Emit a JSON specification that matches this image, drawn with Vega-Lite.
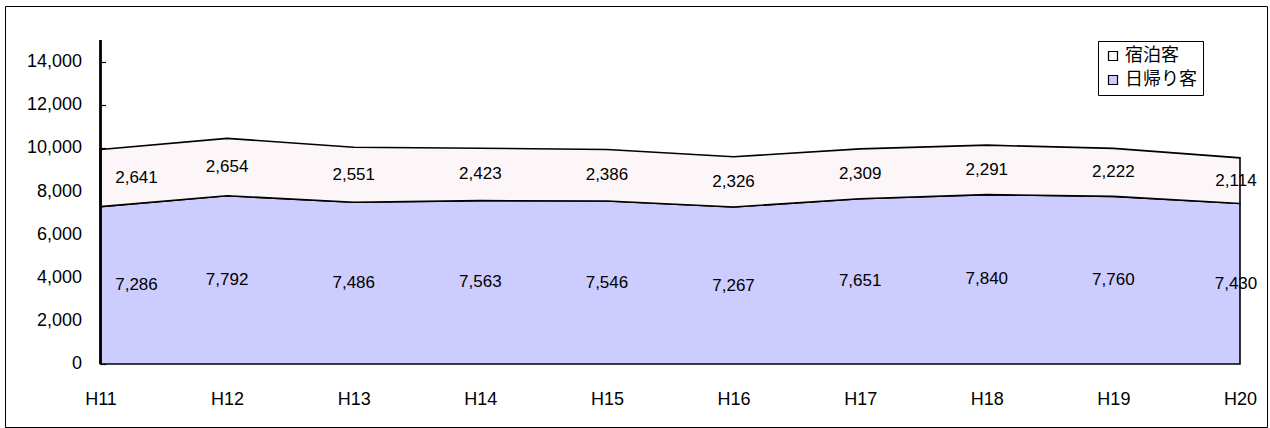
{
  "$schema": "https://vega.github.io/schema/vega-lite/v6.json",
  "autosize": {"type": "none"},
  "padding": {"left": 5, "top": 6, "right": 3, "bottom": 1},
  "width": 1262,
  "height": 421,
  "background": "white",
  "config": {
    "view": {"stroke": "#000000", "strokeWidth": 1},
    "font": "Liberation Sans",
    "axis": {"labelFont": "Liberation Sans", "labelColor": "#000000", "grid": false, "domain": false, "title": null},
    "legend": {"labelFont": "Noto Sans CJK JP"}
  },
  "data": {
    "values": [
      {"year": 11, "series": "日帰り客", "value": 7286},
      {"year": 12, "series": "日帰り客", "value": 7792},
      {"year": 13, "series": "日帰り客", "value": 7486},
      {"year": 14, "series": "日帰り客", "value": 7563},
      {"year": 15, "series": "日帰り客", "value": 7546},
      {"year": 16, "series": "日帰り客", "value": 7267},
      {"year": 17, "series": "日帰り客", "value": 7651},
      {"year": 18, "series": "日帰り客", "value": 7840},
      {"year": 19, "series": "日帰り客", "value": 7760},
      {"year": 20, "series": "日帰り客", "value": 7430},
      {"year": 11, "series": "宿泊客", "value": 2641},
      {"year": 12, "series": "宿泊客", "value": 2654},
      {"year": 13, "series": "宿泊客", "value": 2551},
      {"year": 14, "series": "宿泊客", "value": 2423},
      {"year": 15, "series": "宿泊客", "value": 2386},
      {"year": 16, "series": "宿泊客", "value": 2326},
      {"year": 17, "series": "宿泊客", "value": 2309},
      {"year": 18, "series": "宿泊客", "value": 2291},
      {"year": 19, "series": "宿泊客", "value": 2222},
      {"year": 20, "series": "宿泊客", "value": 2114}
    ]
  },
  "transform": [
    {"stack": "value", "groupby": ["year"], "sort": [{"field": "series", "order": "descending"}], "as": ["y0", "y1"]},
    {"calculate": "(datum.y0 + datum.y1) / 2", "as": "mid"}
  ],
  "layer": [
    {
      "mark": {"type": "area", "stroke": "#000000", "strokeWidth": 1.6, "strokeJoin": "miter"},
      "encoding": {
        "x": {
          "field": "year", "type": "quantitative",
          "scale": {"domain": [10.2457, 20.2133], "nice": false, "zero": false},
          "axis": {"orient": "bottom", "offset": -63, "values": [11, 12, 13, 14, 15, 16, 17, 18, 19, 20], "labelExpr": "'H' + datum.value", "ticks": false, "tickSize": 0, "labelPadding": 26, "labelFontSize": 18}
        },
        "y": {
          "field": "y1", "type": "quantitative",
          "scale": {"domain": [-2916.7, 16574], "nice": false, "zero": false},
          "axis": {"orient": "left", "offset": -100.5, "values": [0, 2000, 4000, 6000, 8000, 10000, 12000, 14000], "format": ",.0f", "tickSize": 5, "tickWidth": 1.2, "tickColor": "#000000", "labelPadding": 19, "labelFontSize": 18}
        },
        "y2": {"field": "y0"},
        "fill": {
          "field": "series", "type": "nominal",
          "scale": {"domain": ["宿泊客", "日帰り客"], "range": ["#fcf6f9", "#ccccff"]},
          "legend": {
            "title": null, "orient": "none", "legendX": 1093, "legendY": 35,
            "symbolType": "square", "symbolSize": 81, "symbolStrokeColor": "#000000", "symbolStrokeWidth": 1.2,
            "labelFontSize": 18, "labelColor": "#000000", "labelOffset": 3,
            "strokeColor": "#000000", "padding": 6, "rowPadding": 6, "fillColor": "#ffffff"
          }
        }
      }
    },
    {
      "mark": {"type": "rule", "color": "#000000", "strokeWidth": 1.2},
      "encoding": {
        "x": {"datum": 11, "type": "quantitative"},
        "y": {"datum": 0, "type": "quantitative"},
        "y2": {"datum": 15000}
      }
    },
    {
      "transform": [{"filter": "datum.year > 11 && datum.year < 20"}],
      "mark": {"type": "text", "fontSize": 17, "font": "Liberation Sans", "color": "#000000", "baseline": "middle"},
      "encoding": {
        "x": {"field": "year", "type": "quantitative"},
        "y": {"field": "mid", "type": "quantitative"},
        "text": {"field": "value", "type": "quantitative", "format": ",.0f"}
      }
    },
    {
      "transform": [{"filter": "datum.year == 11"}],
      "mark": {"type": "text", "fontSize": 17, "font": "Liberation Sans", "color": "#000000", "baseline": "middle", "dx": 36},
      "encoding": {
        "x": {"field": "year", "type": "quantitative"},
        "y": {"field": "mid", "type": "quantitative"},
        "text": {"field": "value", "type": "quantitative", "format": ",.0f"}
      }
    },
    {
      "transform": [{"filter": "datum.year == 20"}],
      "mark": {"type": "text", "fontSize": 17, "font": "Liberation Sans", "color": "#000000", "baseline": "middle", "dx": -4},
      "encoding": {
        "x": {"field": "year", "type": "quantitative"},
        "y": {"field": "mid", "type": "quantitative"},
        "text": {"field": "value", "type": "quantitative", "format": ",.0f"}
      }
    }
  ]
}
